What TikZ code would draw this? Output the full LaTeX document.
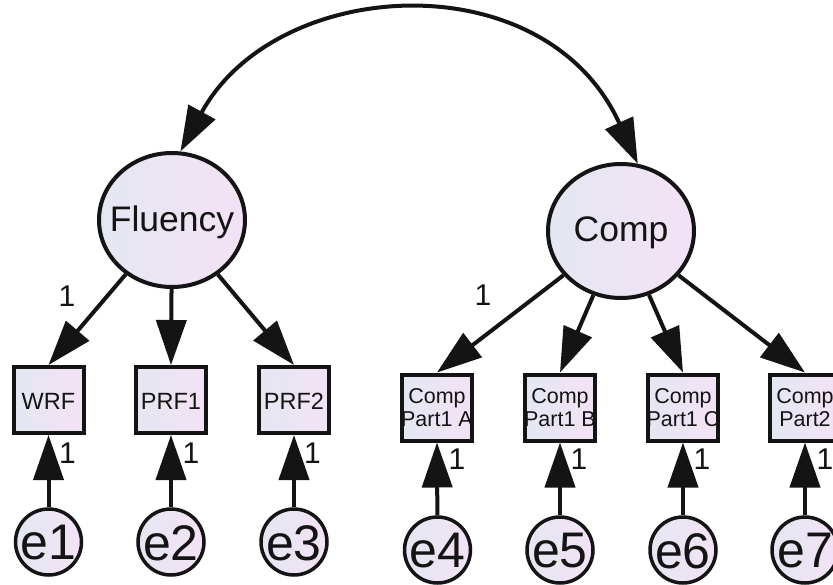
\documentclass[tikz,border=0pt]{standalone}
\usepackage{fontspec}
\setmainfont{Liberation Sans}
\usetikzlibrary{arrows.meta,shapes.geometric}
\definecolor{fillL}{RGB}{228,231,242}
\definecolor{fillR}{RGB}{243,226,245}
\definecolor{ink}{RGB}{20,20,20}
\newcommand{\boxlab}[1]{\node[boxtxtb] at (path picture bounding box.center) {#1};}
\begin{document}
\begin{tikzpicture}[x=1pt,y=-1pt,
  shade/.style={left color=fillL, right color=fillR},
  latent/.style={ellipse, draw=ink, line width=4pt, minimum width=146pt, minimum height=134pt, inner sep=0pt, shade},
  err/.style={circle, draw=ink, line width=3.5pt, minimum size=66pt, inner sep=0pt, shade},
  obs/.style={rectangle, draw=ink, line width=4pt, minimum width=70pt, minimum height=66pt, inner sep=0pt, shade},
  bigtxt/.style={font=\fontsize{35.5}{37}\selectfont, text=ink, inner sep=0pt},
  errtxt/.style={font=\fontsize{50}{52}\selectfont, text=ink, inner sep=0pt},
  boxtxt/.style={font=\fontsize{23.5}{25}\selectfont, text=ink, inner sep=0pt},
  boxtxtb/.style={font=\fontsize{21.5}{23}\selectfont, text=ink, inner sep=0pt, align=center},
  reg/.style={line width=4pt, draw=ink, -{Triangle[length=45pt,width=30pt]}},
  cov/.style={line width=4pt, draw=ink, {Triangle[length=45pt,width=30pt]}-{Triangle[length=45pt,width=30pt]}},
  lbl/.style={font=\fontsize{30}{30}\selectfont, text=ink, inner sep=0pt}
]
\useasboundingbox (0,0) rectangle (833,584);
\clip (0,0) rectangle (833,584);
\fill[white] (0,0) rectangle (833,584);

% latent variables
\node[latent] (flu) at (172,220) {};
\node[bigtxt] (flut) at (172,222) {Fluency};
\node[latent] (comp) at (621,231) {};
\node[bigtxt] (compt) at (621,233) {Comp};

% observed variables
\node[obs] (wrf) at (48.5,400) {};
\node[boxtxt] (wrft) at (48.5,401) {WRF};
\node[obs] (prf1) at (171,400) {};
\node[boxtxt] (prf1t) at (171,401) {PRF1};
\node[obs] (prf2) at (294,400) {};
\node[boxtxt] (prf2t) at (294,401) {PRF2};

\node[obs, path picture={\boxlab{Comp\\Part1 A}}] (ca) at (437,407.5) {};
\node[obs, path picture={\boxlab{Comp\\Part1 B}}] (cb) at (560,407.5) {};
\node[obs, path picture={\boxlab{Comp\\Part1 C}}] (cc) at (683,407.5) {};
\node[obs, path picture={\boxlab{Comp\\Part2}}] (cd) at (805,407.5) {};

% errors
\node[err] (e1) at (48.5,542) {};
\node[errtxt] (e1t) at (48.5,543) {e1};
\node[err] (e2) at (171,542) {};
\node[errtxt] (e2t) at (171,543) {e2};
\node[err] (e3) at (294,542) {};
\node[errtxt] (e3t) at (294,543) {e3};
\node[err] (e4) at (437.5,550) {};
\node[errtxt] (e4t) at (437.5,551) {e4};
\node[err] (e5) at (560,550) {};
\node[errtxt] (e5t) at (560,551) {e5};
\node[err] (e6) at (683,550) {};
\node[errtxt] (e6t) at (683,551) {e6};
\node[err] (e7) at (805,550) {};
\node[errtxt] (e7t) at (805,551) {e7};

% covariance
\draw[cov] (flu.83) .. controls (276,-24) and (545,-40) .. (comp.76);

% loadings
\draw[reg] (flu) -- (wrf.north);
\draw[reg] (flu) -- (prf1.north);
\draw[reg] (flu) -- (prf2.north);
\draw[reg] (comp) -- (ca.north);
\draw[reg] (comp) -- (cb.north);
\draw[reg] (comp) -- (cc.north);
\draw[reg] (comp) -- (cd.north);

% error paths
\draw[reg] (e1) -- (wrf.south);
\draw[reg] (e2) -- (prf1.south);
\draw[reg] (e3) -- (prf2.south);
\draw[reg] (e4) -- (ca.south);
\draw[reg] (e5) -- (cb.south);
\draw[reg] (e6) -- (cc.south);
\draw[reg] (e7) -- (cd.south);

% labels
\node[lbl] (l1) at (67,296) {1};
\node[lbl] (l2) at (483,295) {1};
\node[lbl] (l3) at (67.5,453) {1};
\node[lbl] (l4) at (191,453) {1};
\node[lbl] (l5) at (312.5,453) {1};
\node[lbl] (l6) at (457,459) {1};
\node[lbl] (l7) at (579,459) {1};
\node[lbl] (l8) at (702,459) {1};
\node[lbl] (l9) at (825,459) {1};
\end{tikzpicture}
\end{document}
